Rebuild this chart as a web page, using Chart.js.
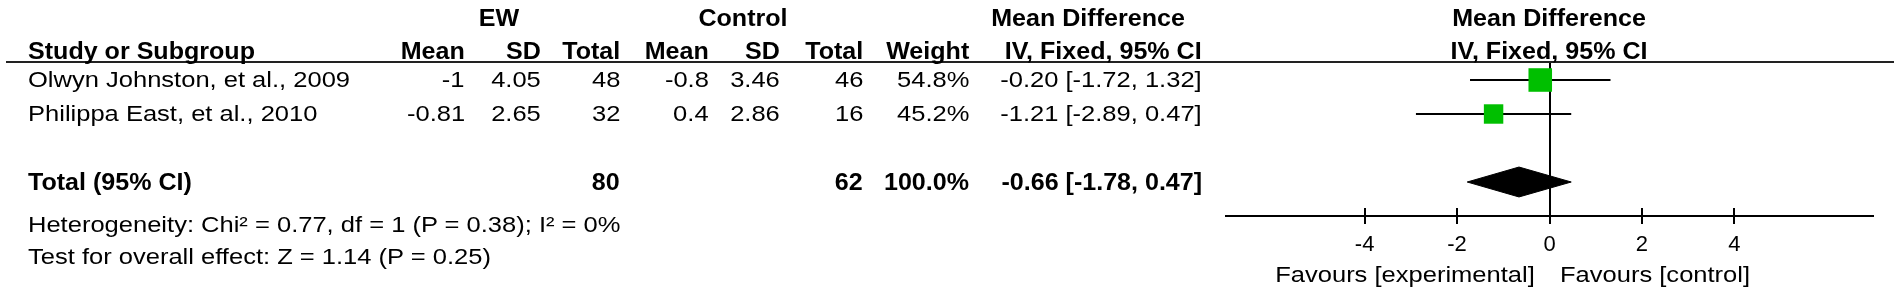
<!DOCTYPE html>
<html><head><meta charset="utf-8">
<script src="https://cdn.jsdelivr.net/npm/chart.js@4.4.1/dist/chart.umd.min.js"></script>
<style>
html,body{margin:0;padding:0;background:#fff;}
#wrap{position:relative;width:1901px;height:294px;overflow:hidden;background:#fff;}
#c{position:absolute;left:0;top:0;}
.t{position:absolute;white-space:nowrap;font-family:'Liberation Sans',Arial,sans-serif;font-size:22px;line-height:1;color:#000;}
.b{font-weight:bold;font-size:23px;}
.rule{position:absolute;left:6px;top:61px;width:1888px;height:2px;background:#222;}
</style></head><body>
<div id="wrap"><canvas id="c" width="1901" height="294"></canvas><div class="rule"></div></div>
<script>
// ---- data ----
const studies   = ["Olwyn Johnston, et al., 2009", "Philippa East, et al., 2010"];
const ewMean    = [-1, -0.81];
const ewSD      = [4.05, 2.65];
const ewTotal   = [48, 32];
const ctlMean   = [-0.8, 0.4];
const ctlSD     = [3.46, 2.86];
const ctlTotal  = [46, 16];
const weights   = [54.8, 45.2];
const md        = [-0.20, -1.21];
const ciLow     = [-1.72, -2.89];
const ciHigh    = [1.32, 0.47];
const totalEW   = 80;
const totalCtl  = 62;
const totalWeight = 100.0;
const totalMD   = -0.66;
const totalLow  = -1.78;
const totalHigh = 0.47;
const heterogeneityText = "Heterogeneity: Chi\u00B2 = 0.77, df = 1 (P = 0.38); I\u00B2 = 0%";
const overallText = "Test for overall effect: Z = 1.14 (P = 0.25)";
const tickValues = [-4, -2, 0, 2, 4];
const tickLabels = ["-4", "-2", "0", "2", "4"];
const xMin = -7, xMax = 7;
const favourLeft = "Favours [experimental]";
const favourRight = "Favours [control]";

// ---- styles / layout ----
const STRETCH = 1.16, STRETCH_BOLD = 1.09;
const W = 1901;
const wrap = document.getElementById('wrap');
function put(text, x, y, align, bold){
  const s = document.createElement('div');
  s.className = 't' + (bold ? ' b' : '');
  s.textContent = text;
  s.style.top = y + 'px';
  const k = bold ? STRETCH_BOLD : STRETCH;
  if (align === 'right') {
    s.style.right = (W - x) + 'px';
    s.style.transformOrigin = '100% 50%';
    s.style.transform = 'translateY(-50%) scaleX(' + k + ')';
  } else if (align === 'left') {
    s.style.left = x + 'px';
    s.style.transformOrigin = '0% 50%';
    s.style.transform = 'translateY(-50%) scaleX(' + k + ')';
  } else {
    s.style.left = x + 'px';
    s.style.transformOrigin = '50% 50%';
    s.style.transform = 'translate(-50%,-50%) scaleX(' + k + ')';
  }
  wrap.appendChild(s);
}
const fmtCI = (m, l, h) => m.toFixed(2) + ' [' + l.toFixed(2) + ', ' + h.toFixed(2) + ']';

const col = {name:28, ewMean:465, ewSD:541, ewTotal:620, ctlMean:709, ctlSD:780, ctlTotal:863, weight:969, ci:1202};
const rowY0 = 18, rowY1 = 51, rowStudy = [80, 114], rowTotal = 182, rowHet = 225, rowTest = 257;

put('EW', 499, rowY0, 'center', true);
put('Control', 743, rowY0, 'center', true);
put('Mean Difference', 1088, rowY0, 'center', true);
put('Mean Difference', 1549, rowY0, 'center', true);
put('Study or Subgroup', col.name, rowY1, 'left', true);
put('Mean', col.ewMean, rowY1, 'right', true);
put('SD', col.ewSD, rowY1, 'right', true);
put('Total', col.ewTotal, rowY1, 'right', true);
put('Mean', col.ctlMean, rowY1, 'right', true);
put('SD', col.ctlSD, rowY1, 'right', true);
put('Total', col.ctlTotal, rowY1, 'right', true);
put('Weight', col.weight, rowY1, 'right', true);
put('IV, Fixed, 95% CI', col.ci, rowY1, 'right', true);
put('IV, Fixed, 95% CI', 1549, rowY1, 'center', true);

studies.forEach((s, i) => {
  const y = rowStudy[i];
  put(s, col.name, y, 'left', false);
  put(String(ewMean[i]), col.ewMean, y, 'right', false);
  put(ewSD[i].toFixed(2), col.ewSD, y, 'right', false);
  put(String(ewTotal[i]), col.ewTotal, y, 'right', false);
  put(String(ctlMean[i]), col.ctlMean, y, 'right', false);
  put(ctlSD[i].toFixed(2), col.ctlSD, y, 'right', false);
  put(String(ctlTotal[i]), col.ctlTotal, y, 'right', false);
  put(weights[i].toFixed(1) + '%', col.weight, y, 'right', false);
  put(fmtCI(md[i], ciLow[i], ciHigh[i]), col.ci, y, 'right', false);
});
put('Total (95% CI)', col.name, rowTotal, 'left', true);
put(String(totalEW), col.ewTotal, rowTotal, 'right', true);
put(String(totalCtl), col.ctlTotal, rowTotal, 'right', true);
put(totalWeight.toFixed(1) + '%', col.weight, rowTotal, 'right', true);
put(fmtCI(totalMD, totalLow, totalHigh), col.ci, rowTotal, 'right', true);
put(heterogeneityText, col.name, rowHet, 'left', false);
put(overallText, col.name, rowTest, 'left', false);
put(favourLeft, 1535, 275, 'right', false);
put(favourRight, 1560, 275, 'left', false);

// ---- chart ----
const SQUARE_PX_PER_WEIGHT = 0.43;
const DIAMOND_HALF = 0.44;   // in row units
const TICK_HALF = 8;
const studyRow = i => i + 1;
const totalRow = studies.length + 2;

const datasets = [];
datasets.push({
  label: 'estimates',
  data: md.map((v, i) => ({x: v, y: studyRow(i)})),
  showLine: false,
  pointStyle: 'rect',
  pointRadius: weights.map(w => w * SQUARE_PX_PER_WEIGHT / Math.SQRT2),
  pointBackgroundColor: '#00bf00',
  pointBorderWidth: 0,
  pointBorderColor: '#00bf00'
});
studies.forEach((s, i) => {
  datasets.push({
    label: s,
    data: [{x: ciLow[i], y: studyRow(i)}, {x: ciHigh[i], y: studyRow(i)}],
    showLine: true, borderColor: '#000', borderWidth: 2, pointRadius: 0, fill: false
  });
});
datasets.push({
  label: 'total',
  data: [
    {x: totalLow, y: totalRow},
    {x: totalMD, y: totalRow - DIAMOND_HALF},
    {x: totalHigh, y: totalRow},
    {x: totalMD, y: totalRow + DIAMOND_HALF},
    {x: totalLow, y: totalRow}
  ],
  showLine: true, borderColor: '#000', backgroundColor: '#000', borderWidth: 1,
  pointRadius: 0, fill: 'shape', tension: 0
});

const tickMarks = {
  id: 'tickMarks',
  afterDraw(chart) {
    const s = chart.scales.x, ctx = chart.ctx, y = chart.chartArea.bottom;
    ctx.save(); ctx.strokeStyle = '#000'; ctx.lineWidth = 2;
    tickValues.forEach(v => {
      const px = Math.round(s.getPixelForValue(v));
      ctx.beginPath(); ctx.moveTo(px, y - TICK_HALF); ctx.lineTo(px, y + TICK_HALF); ctx.stroke();
    });
    ctx.restore();
  }
};

new Chart(document.getElementById('c'), {
  type: 'scatter',
  data: {datasets},
  options: {
    responsive: false, animation: false, devicePixelRatio: 1,
    layout: {padding: {left: 1226, right: 28, top: 63, bottom: 0}},
    plugins: {legend: {display: false}, tooltip: {enabled: false}},
    scales: {
      x: {
        type: 'linear', min: xMin, max: xMax,
        afterBuildTicks: sc => { sc.ticks = tickValues.map(v => ({value: v})); },
        afterFit: sc => { sc.height = 78; },
        ticks: {
          callback: (v) => tickLabels[tickValues.indexOf(v)],
          color: '#000', padding: 16,
          font: {family: "'Liberation Sans', Arial, sans-serif", size: 22}
        },
        grid: {
          drawTicks: false, lineWidth: 2,
          color: c => (c.tick && c.tick.value === 0) ? '#000' : 'rgba(0,0,0,0)'
        },
        border: {display: true, color: '#000', width: 2}
      },
      y: {type: 'linear', min: 0.5, max: 5, reverse: true, display: false}
    }
  },
  plugins: [tickMarks]
});
</script>
</body></html>
